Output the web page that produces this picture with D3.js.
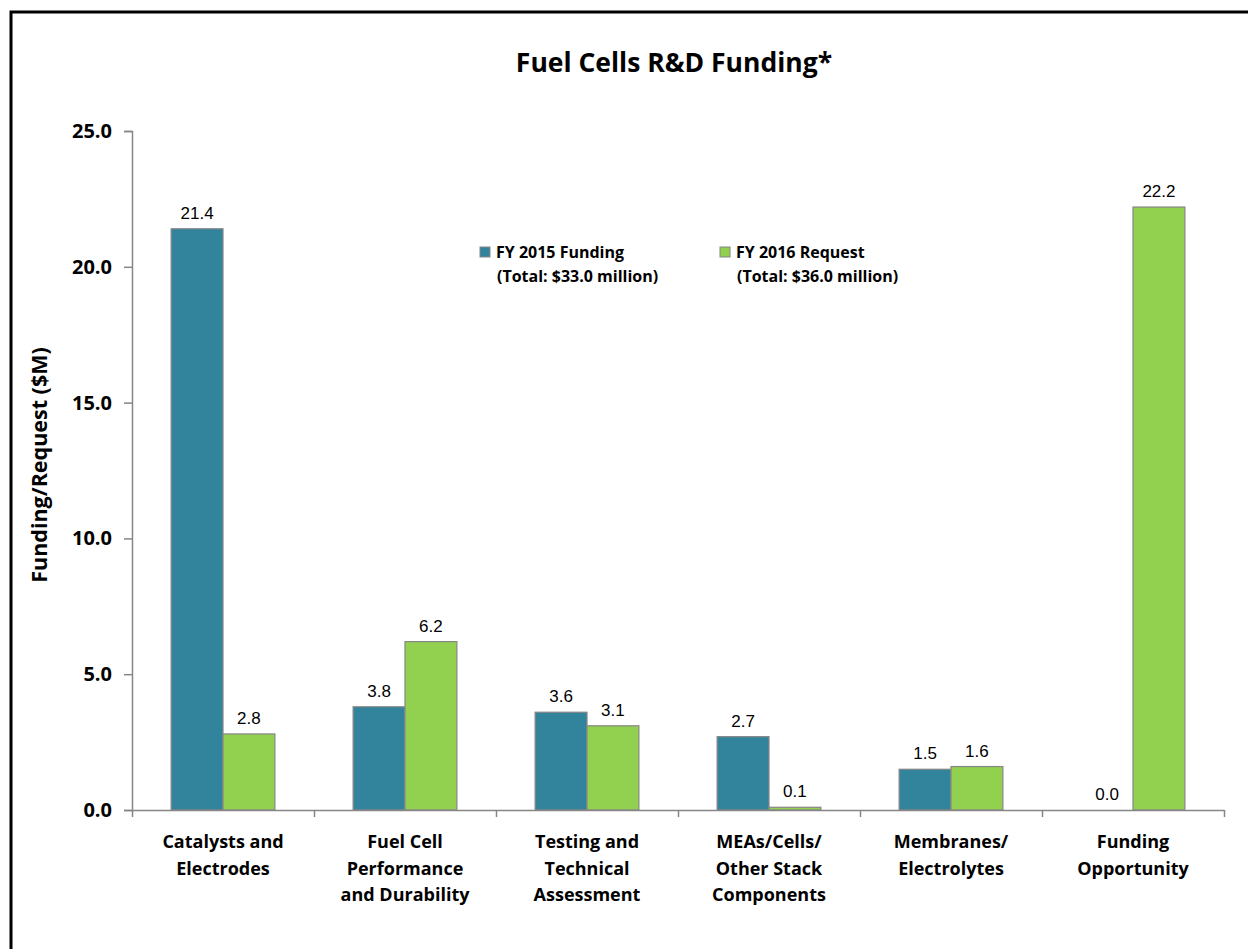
<!DOCTYPE html>
<html><head><meta charset="utf-8">
<script src="https://cdn.jsdelivr.net/npm/d3@7"></script>
<style>
html,body{margin:0;padding:0;background:#fff;overflow:hidden}
svg{display:block}
</style></head><body>
<svg id="chart" width="1248" height="949"></svg>
<script>
const categories = [
  ["Catalysts and", "Electrodes"],
  ["Fuel Cell", "Performance", "and Durability"],
  ["Testing and", "Technical", "Assessment"],
  ["MEAs/Cells/", "Other Stack", "Components"],
  ["Membranes/", "Electrolytes"],
  ["Funding", "Opportunity"]
];
const fy2015 = [21.4, 3.8, 3.6, 2.7, 1.5, 0.0];
const fy2016 = [2.8, 6.2, 3.1, 0.1, 1.6, 22.2];
const seriesNames = ["FY 2015 Funding", "FY 2016 Request"];
const seriesTotals = ["(Total: $33.0 million)", "(Total: $36.0 million)"];
const yTicks = [0, 5, 10, 15, 20, 25];

const colors = ["#31849B", "#92D050"];
const axisColor = "#868686";
const labelFont = "'Open Sans', Lato, sans-serif";

const svg = d3.select("#chart");
// outer frame
svg.append("rect").attr("x", 11).attr("y", 12).attr("width", 1300).attr("height", 1000)
  .attr("fill", "none").attr("stroke", "#000").attr("stroke-width", 3);

const pLeft = 132, pRight = 1224, pTop = 131, pBottom = 810;
const x0 = d3.scaleBand().domain(d3.range(categories.length)).range([pLeft, pRight]).paddingInner(0.43).paddingOuter(0.215);
const x1 = d3.scaleBand().domain([0, 1]).range([0, x0.bandwidth()]);
const y = d3.scaleLinear().domain([0, 25]).range([pBottom, pTop]);

// title
svg.append("text").attr("x", 674).attr("y", 72).attr("text-anchor", "middle")
  .attr("font-family", labelFont).attr("font-weight", "bold").attr("font-size", 26.5)
  .attr("fill", "#000").text("Fuel Cells R&D Funding*");

// bars
const series = [fy2015, fy2016];
series.forEach((vals, s) => {
  svg.append("g").selectAll("rect").data(vals).join("rect")
    .attr("x", (d, i) => x0(i) + x1(s))
    .attr("y", d => y(d))
    .attr("width", x1.bandwidth())
    .attr("height", d => y(0) - y(d))
    .attr("fill", colors[s])
    .attr("stroke", axisColor).attr("stroke-width", 1.2);
  svg.append("g").selectAll("text").data(vals).join("text")
    .attr("x", (d, i) => x0(i) + x1(s) + x1.bandwidth() / 2)
    .attr("y", d => y(d) - 10)
    .attr("text-anchor", "middle")
    .attr("font-family", "'Liberation Sans', Arial, sans-serif")
    .attr("font-size", 17).attr("fill", "#000")
    .text(d => d.toFixed(1));
});

// y axis
const yAxis = d3.axisLeft(y).tickValues(yTicks).tickSize(8).tickPadding(12).tickFormat(d3.format(".1f"));
const gy = svg.append("g").attr("transform", `translate(${pLeft},0)`).call(yAxis);
gy.select(".domain").attr("stroke", axisColor).attr("stroke-width", 1.5);
gy.selectAll(".tick line").attr("stroke", axisColor).attr("stroke-width", 1.5);
gy.selectAll(".tick text").attr("font-family", labelFont).attr("font-weight", "bold")
  .attr("font-size", 20).attr("fill", "#000");

// x axis
const xEdges = d3.scaleLinear().domain([0, categories.length]).range([pLeft, pRight]);
const xAxis = d3.axisBottom(xEdges).tickValues(d3.range(categories.length + 1)).tickSize(7).tickFormat("").tickSizeOuter(0);
const gx = svg.append("g").attr("transform", `translate(0,${pBottom})`).call(xAxis);
gx.select(".domain").attr("stroke", axisColor).attr("stroke-width", 1.5);
gx.selectAll(".tick line").attr("stroke", axisColor).attr("stroke-width", 1.5);

// category labels
const cat = svg.append("g").selectAll("text").data(categories).join("text")
  .attr("x", (d, i) => x0(i) + x0.bandwidth() / 2)
  .attr("y", 848)
  .attr("text-anchor", "middle")
  .attr("font-family", labelFont).attr("font-weight", "bold").attr("font-size", 18).attr("fill", "#000");
cat.each(function(d) {
  const t = d3.select(this);
  d.forEach((line, j) => {
    t.append("tspan").attr("x", t.attr("x")).attr("y", 848 + j * 26.5).text(line);
  });
});

// y axis title
svg.append("text").attr("transform", "translate(47,465) rotate(-90)")
  .attr("text-anchor", "middle").attr("font-family", labelFont).attr("font-weight", "bold")
  .attr("font-size", 21.5).attr("fill", "#000").text("Funding/Request ($M)");

// legend
const legX = [480, 720];
seriesNames.forEach((name, s) => {
  const g = svg.append("g");
  g.append("rect").attr("x", legX[s]).attr("y", 247).attr("width", 10).attr("height", 10)
    .attr("fill", colors[s]).attr("stroke", axisColor).attr("stroke-width", 1);
  g.append("text").attr("x", legX[s] + 16).attr("y", 258)
    .attr("font-family", labelFont).attr("font-weight", "bold").attr("font-size", 16).attr("fill", "#000").text(name);
  g.append("text").attr("x", legX[s] + 17).attr("y", 282)
    .attr("font-family", labelFont).attr("font-weight", "bold").attr("font-size", 16).attr("fill", "#000").text(seriesTotals[s]);
});
</script>
</body></html>
